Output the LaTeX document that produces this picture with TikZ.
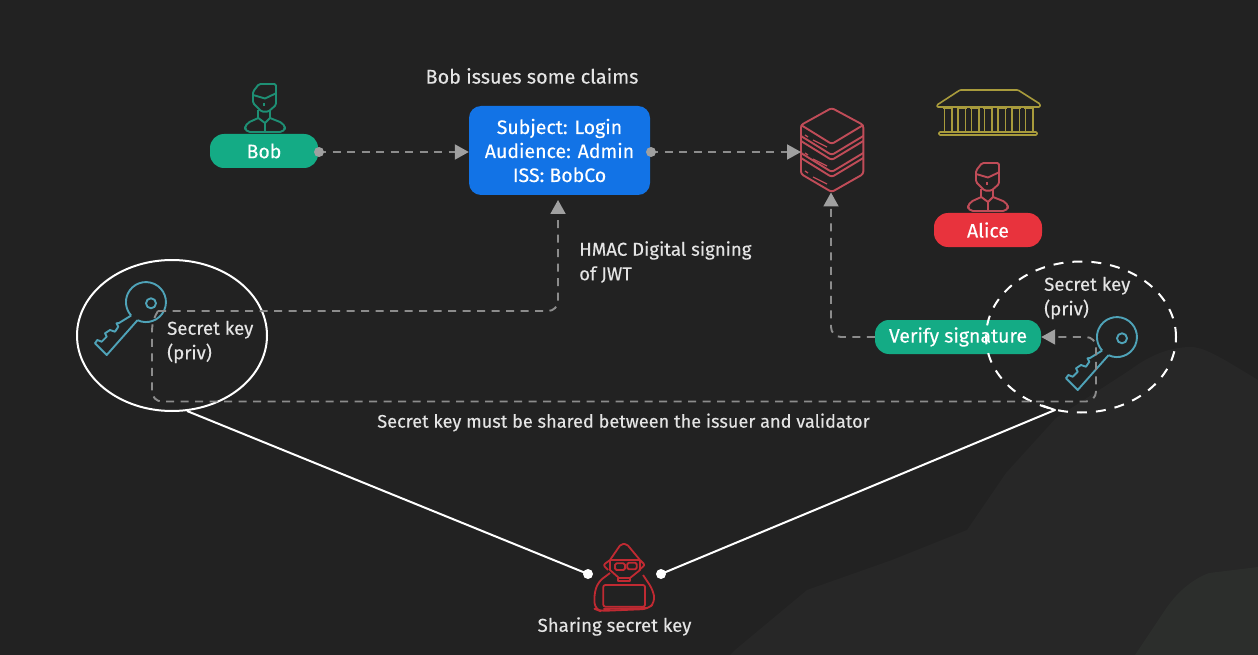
\documentclass[tikz,border=0pt]{standalone}
\usepackage{fontspec}
\setmainfont{Fira Sans}[FakeBold=0.25,AutoFakeBold=0.25]
\usetikzlibrary{arrows.meta,shapes.geometric}
\definecolor{bgc}{HTML}{222222}
\definecolor{bgl}{HTML}{272727}
\definecolor{bgm}{HTML}{2C2E2C}
\definecolor{greenc}{HTML}{14AB85}
\definecolor{greenl}{HTML}{1E8F74}
\definecolor{bluec}{HTML}{1273E6}
\definecolor{redc}{HTML}{E8333D}
\definecolor{redl}{HTML}{C04C58}
\definecolor{redd}{HTML}{C02A32}
\definecolor{goldc}{HTML}{A89B3C}
\definecolor{keyc}{HTML}{4FA3B8}
\definecolor{dashc}{HTML}{8C8C8C}
\definecolor{headc}{HTML}{A0A0A0}
\definecolor{txt}{HTML}{E4E4E4}
\tikzset{
  x=1pt,y=-1pt,
  lbl/.style={text=txt,font=\fontsize{18.6}{23}\selectfont,inner sep=0pt,align=left},
  pill/.style={rectangle,text=white,inner sep=0pt,font=\fontsize{19.5}{23.5}\selectfont},
  dline/.style={draw=dashc,line width=1.9pt,dash pattern=on 8pt off 6.5pt,rounded corners=10pt},
  arrowd/.style={dline,-{Triangle[length=14pt,width=15pt,color=headc]}},
  whitel/.style={draw=white,line width=2pt,line join=round},
  keyline/.style={draw=keyc,line width=1.9pt,line join=round},
  dotg/.style={circle,fill=headc,minimum size=10pt,inner sep=0pt},
  dotw/.style={circle,fill=white,minimum size=10pt,inner sep=0pt},
}
\newcommand{\personicon}[3]{%
  \begin{scope}[shift={(#1,#2)},draw=#3,line width=1.9pt,line join=round]
    \draw[rounded corners=1.5pt] (-12,18) -- (-12,6.7) -- (-6,-1) -- (11,-1) -- (11,20) -- (3.3,26.7) -- (-3.3,26.7) -- cycle;
    \draw (-12,10) -- (0,13.5) -- (11,8.3);
    \draw[line width=1.3pt] (-1,18) -- (-1,21);
    \draw (-6.7,25) -- (-6.7,33) (5,25) -- (5,33);
    \draw[rounded corners=5pt] (-6.7,33) -- (-20,39) -- (-20,47) -- (20,47) -- (20,39) -- (5,33);
    \draw (-6.7,33) -- (0,38) -- (5,33);
    \draw (0,38) -- (0,47);
  \end{scope}}
\newcommand{\keyicon}[2]{%
  \begin{scope}[shift={(#1,#2)},keyline]
    \draw (137.5,320.2) -- (106.7,355) -- (95,343.3) -- (97.3,340) -- (101.7,341.7) -- (106.7,336.7) -- (105,333.3) -- (110,330) -- (115,331.7) -- (118.3,326.7) -- (116.5,323.3) -- (119,323) -- (131.2,315.5);
    \draw (137.5,320.2) arc[start angle=115,delta angle=-337,radius=20];
    \draw (151,303.3) circle[radius=5];
  \end{scope}}
\begin{document}
\begin{tikzpicture}
\useasboundingbox (0,0) rectangle (1258,655);
\fill[bgc] (0,0) rectangle (1258,655);
\fill[bgl] (1258,380) .. controls (1225,360) and (1205,347) .. (1191,347) .. controls (1170,347) and (1150,355) .. (1130,370) -- (1056,418) -- (1006,473) -- (967,530) -- (892,560) -- (807,590) -- (735,650) -- (730,655) -- (1258,655) -- cycle;
\fill[bgm] (1258,567) -- (1209,573) .. controls (1190,580) and (1175,595) .. (1165,610) -- (1135,655) -- (1258,655) -- cycle;

% text
\node[lbl,anchor=center,font=\fontsize{19.8}{24}\selectfont] (title) at (532,76) {Bob issues some claims};
\node[lbl,anchor=west] (hmac) at (579,262) {HMAC Digital signing\\[1.5pt]of JWT};
\node[lbl,anchor=west] (skl) at (167,342) {Secret key\\[1.5pt](priv)};
\node[lbl,anchor=west] (skr) at (1044,298) {Secret key\\[1.5pt](priv)};
\node[lbl,anchor=center,font=\fontsize{18.15}{23}\selectfont] (must) at (623.5,422.5) {Secret key must be shared between the issuer and validator};
\node[lbl,anchor=center] (share) at (614.5,626.5) {Sharing secret key};

% boxes
\node[pill,fill=greenc,minimum width=108pt,minimum height=34pt,rounded corners=14pt] (bob) at (264,151) {Bob};
\node[pill,fill=redc,minimum width=108pt,minimum height=34pt,rounded corners=14pt] (alice) at (988,230) {Alice};
\node[pill,fill=greenc,minimum width=166pt,minimum height=34pt,rounded corners=14pt] (verify) at (958,337) {Verify signature};
\node[pill,fill=bluec,minimum width=181pt,minimum height=89pt,rounded corners=12pt,align=center] (claims) at (559.5,150.5) {Subject: Login\\[0.5pt]Audience: Admin\\[0.5pt]ISS: BobCo};

% icons
\personicon{265}{85}{greenl}
\personicon{988}{164}{redl}

% stack
\node[inner sep=0pt,minimum size=1pt] (stack) at (801,152) {};
\begin{scope}[draw=redl,line width=1.9pt,line join=round,rounded corners=2.5pt]
  \draw (831.7,108) -- (863.3,125) -- (863.3,174) -- (831.7,192) -- (801,174) -- (801,125) -- cycle;
  \draw (801,125) -- (831.7,144) -- (863.3,125);
  \draw (801,136) -- (831.7,155) -- (863.3,136);
  \draw (801,141) -- (831.7,160) -- (863.3,141);
  \draw (801,153) -- (831.7,172) -- (863.3,153);
  \draw (801,158) -- (831.7,177) -- (863.3,158);
  \draw[line width=1.3pt] (805,135) -- (808,137) (813,140) -- (827,147);
  \draw[line width=1.3pt] (805,153) -- (808,155) (813,159) -- (827,166);
  \draw[line width=1.3pt] (805,171) -- (808,173) (813,177) -- (827,184);
\end{scope}

% temple
\begin{scope}[draw=goldc,line width=1.6pt,line join=round,rounded corners=1pt]
  \draw (937,105) -- (960,90) -- (1018,90) -- (1040,104) -- (1040,107) -- (937,107) -- cycle;
  \draw (939,132) rectangle (1037,135);
  \foreach \cx in {948.3,961.7,975,988.3,1001.7,1015.7,1029}{
    \draw (\cx-3.7,108) -- (\cx-3.7,132) (\cx+3.7,108) -- (\cx+3.7,132);
    \draw (\cx-5,108.5) -- (\cx+5,108.5);
  }
\end{scope}

% keys
\keyicon{0}{0}
\keyicon{971}{35}

% hacker
\node[inner sep=0pt,minimum size=1pt] (hacker) at (625,578) {};
\begin{scope}[draw=redd,line width=1.8pt,line join=round]
  \draw[rounded corners=2pt] (610,560) -- (621,544) -- (626.7,544) -- (640,560);
  \draw[rounded corners=2pt] (610,560) -- (603.3,565) -- (608,570) (640,560) -- (645,565) -- (639,570);
  \draw (610,560) -- (640,560);
  \draw (610,560) -- (610,570) -- (619,578) -- (630,578) -- (640,570) -- (640,560);
  \draw[rounded corners=1.5pt] (615,563.3) rectangle (625,570);
  \draw[rounded corners=1.5pt] (627.3,562.7) rectangle (636.7,569.3);
  \draw (618,578) -- (618,581) -- (630,581) -- (630,578);
  \draw[rounded corners=6pt] (610,573) -- (598,582) -- (594,595) -- (595,609) -- (600,611) -- (648,609) -- (655,602) -- (653,590) -- (643,575);
  \draw[rounded corners=2pt] (603.3,585) rectangle (645,606.7);
  \draw (603.3,609) -- (647,608);
\end{scope}

% ellipses
\node[ellipse,draw=white,line width=2pt,minimum width=190pt,minimum height=151pt,inner sep=0pt] (ell) at (172,335.5) {};
\node[ellipse,draw=white,line width=2pt,dash pattern=on 10pt off 9pt,minimum width=190pt,minimum height=151pt,inner sep=0pt] (elr) at (1081,337) {};

% dots and lines to hacker
\node[dotw] (dl) at (588,574) {};
\node[dotw] (dr) at (661,574) {};
\coordinate (l0) at (187,411);
\coordinate (r0) at (1055,410);
\coordinate (r1) at (1042,405.5);
\draw[whitel] (l0) -- (dl.center);
\draw[whitel] (r1) -- (r0) -- (dr.center);

% dashed connectors
\coordinate (be) at (bob.east |- stack.center);
\coordinate (cw) at (claims.west |- stack.center);
\coordinate (ce) at (claims.east |- stack.center);
\draw[arrowd] (be) -- (cw);
\draw[arrowd] (ce) -- (stack.center);
\coordinate (k1) at (158,311);
\coordinate (k3) at (558,200);
\draw[arrowd] (k1) -- (558,311) -- (k3);
\coordinate (k4) at (831,192.5);
\draw[arrowd] (verify.west) -- (831,337) -- (k4);
\draw[arrowd] (k1) -- (152,320) -- (152,401.5) -- (1096,401.5) -- (1096,337) -- (verify.east);
\node[dotg] (d1) at (319,152) {};
\node[dotg] (d2) at (651,152) {};
\end{tikzpicture}
\end{document}
